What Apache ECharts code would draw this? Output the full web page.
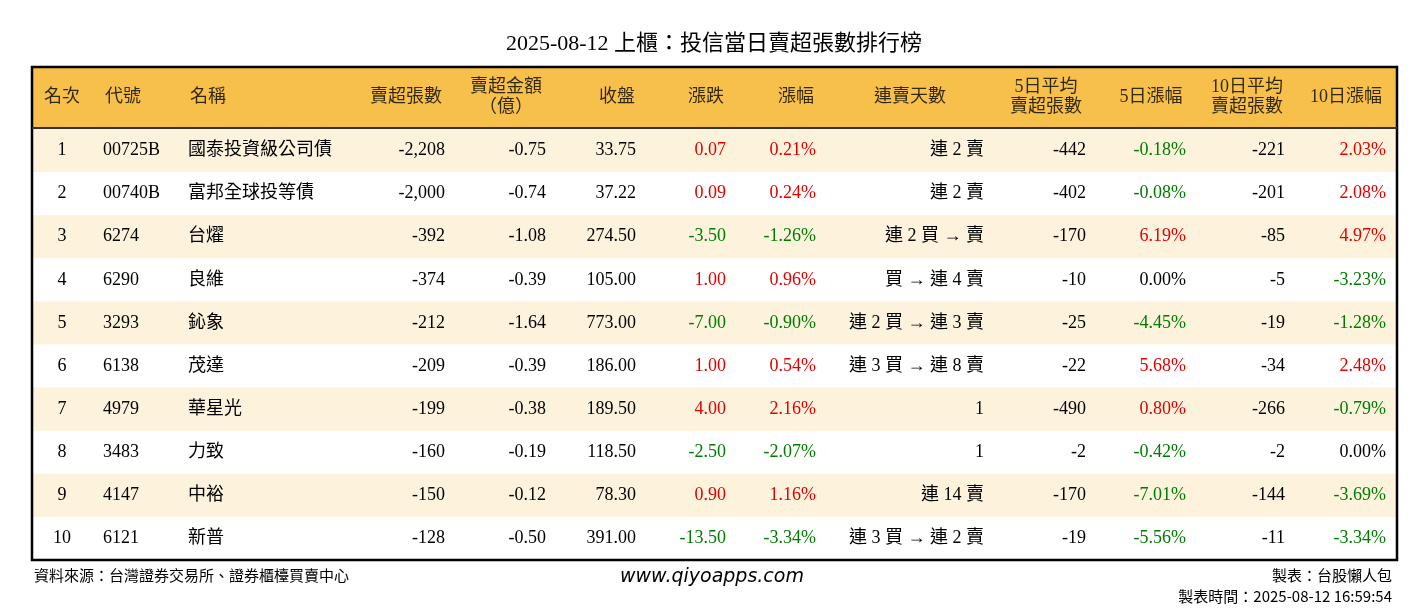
<!DOCTYPE html><html><head><meta charset="utf-8">
<script src="https://cdn.jsdelivr.net/npm/echarts@6/dist/echarts.min.js"></script>
<style>html,body{margin:0;padding:0;background:#fff}#c{width:1428px;height:612px}</style></head><body><div id="c"></div>
<script>
const ranks=['1','2','3','4','5','6','7','8','9','10'];
const codes=['00725B','00740B','6274','6290','3293','6138','4979','3483','4147','6121'];
const names=['國泰投資級公司債','富邦全球投等債','台燿','良維','鈊象','茂達','華星光','力致','中裕','新普'];
const sellQty=['-2,208','-2,000','-392','-374','-212','-209','-199','-160','-150','-128'];
const sellAmt=['-0.75','-0.74','-1.08','-0.39','-1.64','-0.39','-0.38','-0.19','-0.12','-0.50'];
const closes=['33.75','37.22','274.50','105.00','773.00','186.00','189.50','118.50','78.30','391.00'];
const changes=['0.07','0.09','-3.50','1.00','-7.00','1.00','4.00','-2.50','0.90','-13.50'];
const pcts=['0.21%','0.24%','-1.26%','0.96%','-0.90%','0.54%','2.16%','-2.07%','1.16%','-3.34%'];
const streaks=['連 2 賣','連 2 賣','連 2 買 → 賣','買 → 連 4 賣','連 2 買 → 連 3 賣','連 3 買 → 連 8 賣','1','1','連 14 賣','連 3 買 → 連 2 賣'];
const avg5=['-442','-402','-170','-10','-25','-22','-490','-2','-170','-19'];
const pct5=['-0.18%','-0.08%','6.19%','0.00%','-4.45%','5.68%','0.80%','-0.42%','-7.01%','-5.56%'];
const avg10=['-221','-201','-85','-5','-19','-34','-266','-2','-144','-11'];
const pct10=['2.03%','2.08%','4.97%','-3.23%','-1.28%','2.48%','-0.79%','0.00%','-3.69%','-3.34%'];
const headers=['名次','代號','名稱','賣超張數','賣超金額\n（億）','收盤','漲跌','漲幅','連賣天數','5日平均\n賣超張數','5日漲幅','10日平均\n賣超張數','10日漲幅'];

const FONT='"Liberation Serif","Noto Sans CJK TC",serif';
const RED='#e00000',GREEN='#007a00',BLACK='#000';
function signColor(s){const v=parseFloat(s);return v>0?RED:(v<0?GREEN:BLACK);}
const cols=[
 [62,'center',ranks],[103,'left',codes],[188,'left',names],[445,'right',sellQty],[546,'right',sellAmt],
 [636,'right',closes],[726,'right',changes,signColor],[816,'right',pcts,signColor],[984,'right',streaks],
 [1086,'right',avg5],[1186,'right',pct5,signColor],[1285,'right',avg10],[1386,'right',pct10,signColor]];
const headerX=[62,123,208,406,506,617,706,796,910,1046,1151,1247,1346];

const rowCats=ranks.map((r,i)=>'r'+i);
const series=[];
series.push({type:'bar',xAxisIndex:0,yAxisIndex:0,barWidth:'100%',silent:true,
  data:rowCats.map((c,i)=>({value:i%2===0?1428:0,itemStyle:{color:'#fdf3dd'}})),z:1});
cols.forEach(([x,align,vals,cf])=>{
  series.push({type:'scatter',xAxisIndex:0,yAxisIndex:0,symbolSize:0,silent:true,z:3,
    data:vals.map((v,i)=>({value:[x,rowCats[i]],label:{formatter:v,color:cf?cf(v):BLACK}})),
    label:{show:true,position:'inside',align:align,verticalAlign:'middle',fontFamily:FONT,fontSize:18,color:BLACK,opacity:1}});
});
series.push({type:'bar',xAxisIndex:1,yAxisIndex:1,barWidth:'100%',silent:true,data:[1428],itemStyle:{color:'#f7c04b'},z:1});
series.push({type:'scatter',xAxisIndex:1,yAxisIndex:1,symbolSize:0,silent:true,z:3,
  data:headers.map((h,i)=>({value:[headerX[i],'h'],label:{formatter:h}})),
  label:{show:true,position:'inside',align:'center',verticalAlign:'middle',fontFamily:FONT,fontSize:18,lineHeight:20,color:BLACK}});

const chart=echarts.init(document.getElementById('c'));
chart.setOption({
 animation:false,
 title:{text:'2025-08-12 上櫃：投信當日賣超張數排行榜',left:'center',top:28,textStyle:{fontFamily:FONT,fontSize:22,fontWeight:'normal',color:'#000'}},
 grid:[{left:0,right:0,top:129,height:431},{left:0,right:0,top:67,height:61}],
 xAxis:[{type:'value',min:0,max:1428,show:false,gridIndex:0},{type:'value',min:0,max:1428,show:false,gridIndex:1}],
 yAxis:[{type:'category',data:rowCats,inverse:true,show:false,gridIndex:0},{type:'category',data:['h'],show:false,gridIndex:1}],
 series:series,
 graphic:[
  {type:'rect',shape:{x:32,y:67,width:1365,height:493},style:{fill:'none',stroke:'#000',lineWidth:2.5},z:10},
  {type:'line',shape:{x1:32,y1:128,x2:1397,y2:128},style:{stroke:'#333',lineWidth:2},z:10},
  {type:'rect',shape:{x:0,y:0,width:31,height:612},style:{fill:'#fff'},z:9},
  {type:'rect',shape:{x:1398,y:0,width:30,height:612},style:{fill:'#fff'},z:9},
  {type:'text',left:34,top:568,style:{text:'資料來源：台灣證券交易所、證券櫃檯買賣中心',font:'15px "Noto Sans CJK TC"',fill:'#000'},z:11},
  {type:'text',left:620,top:568,style:{text:'www.qiyoapps.com',font:'italic 19px "DejaVu Sans"',fill:'#000'},z:11},
  {type:'text',right:36,top:568,style:{text:'製表：台股懶人包',font:'15px "Noto Sans CJK TC"',fill:'#000',align:'right'},z:11},
  {type:'text',right:36,top:589,style:{text:'製表時間：2025-08-12 16:59:54',font:'15px "Noto Sans CJK TC"',fill:'#000',align:'right'},z:11}
 ]
});
</script></body></html>
